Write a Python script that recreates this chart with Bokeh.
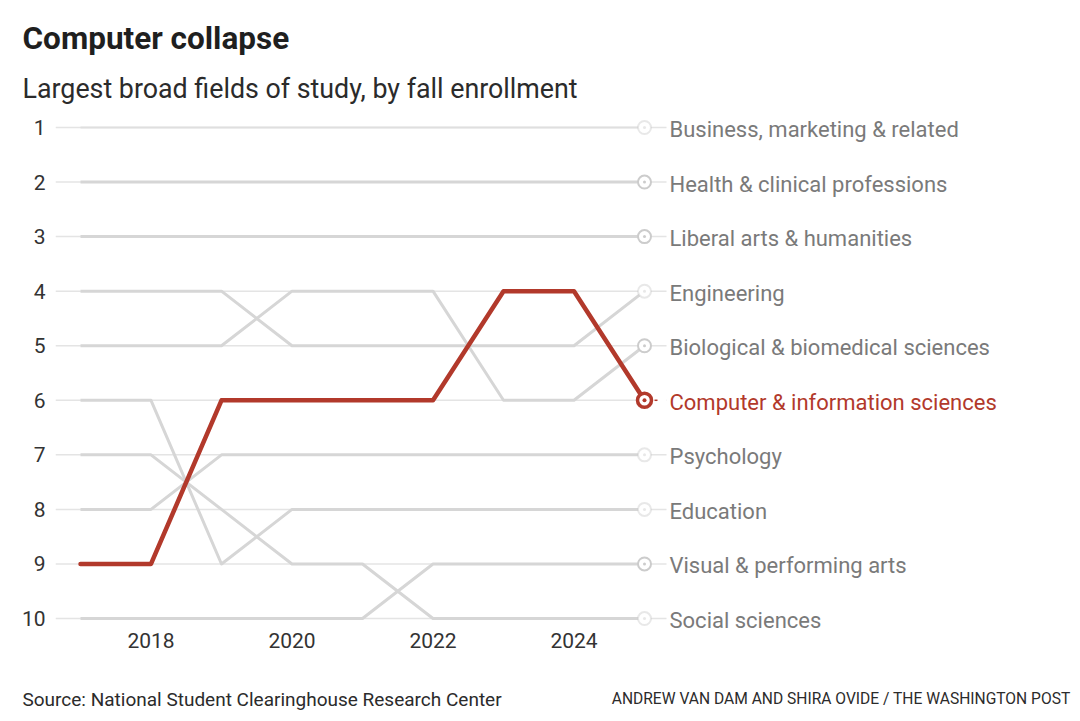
from bokeh.plotting import figure
from bokeh.models import Range1d, FixedTicker, ColumnDataSource
from bokeh.layouts import column
from bokeh.core.properties import value
from bokeh.embed import file_html
from bokeh.resources import INLINE

# ---- data ----
years = [2017, 2018, 2019, 2020, 2021, 2022, 2023, 2024, 2025]
fields = [
    "Business, marketing & related",
    "Health & clinical professions",
    "Liberal arts & humanities",
    "Engineering",
    "Biological & biomedical sciences",
    "Computer & information sciences",
    "Psychology",
    "Education",
    "Visual & performing arts",
    "Social sciences",
]
business = [1, 1, 1, 1, 1, 1, 1, 1, 1]
health = [2, 2, 2, 2, 2, 2, 2, 2, 2]
liberal_arts = [3, 3, 3, 3, 3, 3, 3, 3, 3]
engineering = [4, 4, 4, 5, 5, 5, 5, 5, 4]
biological = [5, 5, 5, 4, 4, 4, 6, 6, 5]
computer = [9, 9, 6, 6, 6, 6, 4, 4, 6]
psychology = [8, 8, 7, 7, 7, 7, 7, 7, 7]
education = [6, 6, 9, 8, 8, 8, 8, 8, 8]
visual_arts = [10, 10, 10, 10, 10, 9, 9, 9, 9]
social = [7, 7, 8, 9, 9, 10, 10, 10, 10]
series = [business, health, liberal_arts, engineering, biological,
          computer, psychology, education, visual_arts, social]
highlight = "Computer & information sciences"
rank_ticks = [1, 2, 3, 4, 5, 6, 7, 8, 9, 10]
year_ticks = [2018, 2020, 2022, 2024]

title_text = "Computer collapse"
subtitle_text = "Largest broad fields of study, by fall enrollment"
source_text = "Source: National Student Clearinghouse Research Center"
credit_text = "ANDREW VAN DAM AND SHIRA OVIDE / THE WASHINGTON POST"

# ---- layout ----
W, H = 1080, 721
HEADER_H = 105
FOOT_H = 56
MAIN_H = H - HEADER_H - FOOT_H
left, right, bottom = 55, 5, 33
px_year = 70.5
px_rank = 54.56
x0 = years[0] - (80 - left) / px_year
x1 = x0 + (W - left - right) / px_year
y_top = 1 - (127 - HEADER_H) / px_rank
y_bot = y_top + (MAIN_H - bottom) / px_rank

RED = "#b2392b"
GRAY_LINE = "#d6d6d6"
GRID = "#e4e4e4"
LABEL_GRAY = "#7a7a7a"
DARK = "#2b2b2b"
FONT = "Roboto"


def text_fig(height):
    f = figure(width=W, height=height, output_backend="svg", toolbar_location=None,
               x_range=Range1d(0, W), y_range=Range1d(height, 0),
               x_axis_type=None, y_axis_type=None, min_border=0,
               frame_align=False)
    f.outline_line_color = None
    f.grid.visible = False
    f.background_fill_color = "white"
    f.border_fill_color = "white"
    return f


# header
header = text_fig(HEADER_H)
header.text(x=[22], y=[38], text=[title_text], text_font=value(FONT),
            text_font_size="31.5px", text_font_style="bold", text_color="#1f1f1f",
            text_baseline="alphabetic")
header.text(x=[22], y=[88], text=[subtitle_text], text_font=value(FONT),
            text_font_size="26.8px", text_color=DARK, text_baseline="alphabetic")

# main chart
p = figure(width=W, height=MAIN_H, output_backend="svg", toolbar_location=None,
           x_range=Range1d(x0, x1), y_range=Range1d(y_bot, y_top),
           min_border_left=left, min_border_right=right,
           min_border_top=0, min_border_bottom=bottom, frame_align=False)
p.outline_line_color = None
p.grid.visible = False
p.background_fill_color = "white"
p.border_fill_color = "white"

p.yaxis.ticker = FixedTicker(ticks=rank_ticks)
p.xaxis.ticker = FixedTicker(ticks=year_ticks)
for ax in (p.xaxis[0], p.yaxis[0]):
    ax.axis_line_color = None
    ax.major_tick_line_color = None
    ax.minor_tick_line_color = None
    ax.major_tick_out = 0
    ax.major_tick_in = 0
    ax.major_label_text_font = FONT
    ax.major_label_text_font_size = "21px"
    ax.major_label_text_color = "#333333"
p.yaxis.major_label_standoff = 10
p.xaxis.major_label_standoff = 0

label_x = years[-1] + 25 / px_year

# gridlines (extend to label as connector)
p.segment(x0=[x0] * len(rank_ticks), y0=rank_ticks,
          x1=[label_x - 3 / px_year] * len(rank_ticks), y1=rank_ticks,
          line_color=GRID, line_width=1.5)

# gray lines
for name, s in zip(fields, series):
    if name == highlight:
        continue
    alpha = 0.35 if name == fields[0] else 1.0
    p.line(years, s, line_color=GRAY_LINE, line_width=3, line_alpha=alpha,
           line_join="round")

# highlight line
hi = series[fields.index(highlight)]
p.line(years, hi, line_color=RED, line_width=4.5, line_join="round", line_cap="round")

# end markers
faint = {fields[0], "Engineering", "Psychology", "Education", "Social sciences"}
for name, s in zip(fields, series):
    if name == highlight:
        continue
    a = 0.45 if name in faint else 1.0
    p.scatter([years[-1]], [s[-1]], size=13, marker="circle", fill_color="white",
              line_color="#cccccc", line_width=2, line_alpha=a)
    p.scatter([years[-1]], [s[-1]], size=3, marker="circle", fill_color="#cccccc",
              line_color=None, fill_alpha=a)

# highlight connector & marker
p.segment(x0=[years[-1]], y0=[hi[-1]], x1=[label_x - 3 / px_year], y1=[hi[-1]],
          line_color="white", line_width=3)
p.segment(x0=[years[-1] + 10 / px_year], y0=[hi[-1]], x1=[years[-1] + 13 / px_year],
          y1=[hi[-1]], line_color=RED, line_width=1.5)
p.scatter([years[-1]], [hi[-1]], size=14, marker="circle", fill_color="white",
          line_color=RED, line_width=3.5)
p.scatter([years[-1]], [hi[-1]], size=4, marker="circle", fill_color=RED,
          line_color=None)

# right labels
finals = [s[-1] for s in series]
colors = [RED if f == highlight else LABEL_GRAY for f in fields]
src = ColumnDataSource(dict(x=[label_x] * len(fields), y=finals, t=fields, c=colors))
p.text(x="x", y="y", text="t", text_color="c", source=src,
       text_font=value(FONT), text_font_size="22px",
       text_baseline="middle", text_align="left", y_offset=2)

# footer
footer = text_fig(FOOT_H)
footer.text(x=[22], y=[34], text=[source_text], text_font=value(FONT),
            text_font_size="19px", text_color=DARK, text_baseline="alphabetic")
footer.text(x=[1070], y=[33], text=[credit_text], text_font=value(FONT),
            text_font_size="15.6px", text_color=DARK, text_baseline="alphabetic",
            text_align="right")

layout = column(header, p, footer, spacing=0)
open("out.html", "w").write(file_html(layout, INLINE))
